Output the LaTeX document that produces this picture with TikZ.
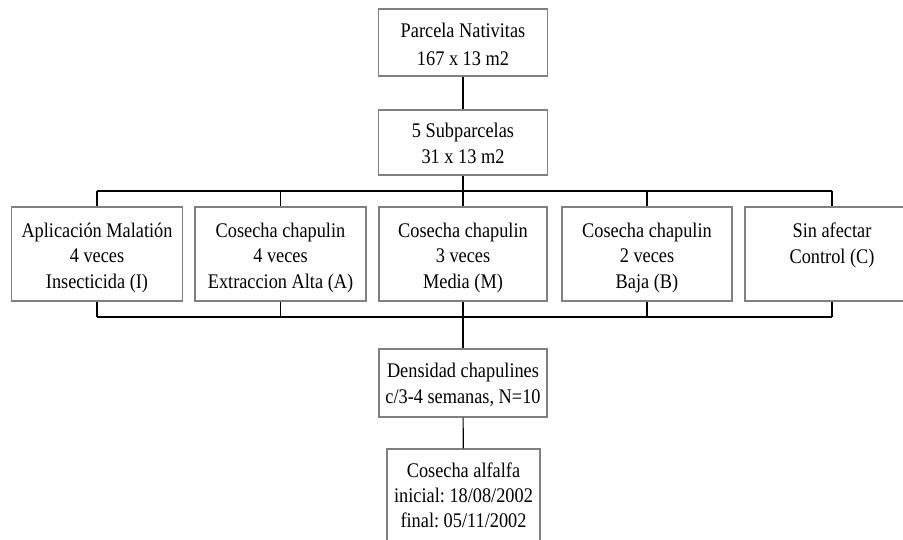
\documentclass[tikz,border=0pt]{standalone}
\usepackage{fontspec}
\setmainfont[FakeStretch=0.88]{Liberation Serif}
\usepackage{tikz}

\definecolor{boxgray}{RGB}{128,128,128}
\frenchspacing

\begin{document}
\begin{tikzpicture}[x=1pt, y=-1pt,
  box/.style={rectangle, draw=boxgray, line width=1.2pt, align=center,
    inner sep=0pt, text depth=5pt, font=\fontsize{20.8}{25.5}\selectfont},
  link/.style={draw=black, line width=1.1pt}]

  \clip (0,0) rectangle (903,539);

  \node[box, minimum width=169, minimum height=67, text height=50pt,
    font=\fontsize{20.8}{28}\selectfont] (parcela) at (463,42.5)
  {Parcela Nativitas\\ 167 x 13 m2};
  \node[box, minimum width=169, minimum height=65, text height=46pt] (sub) at (463,142.5)
  {5 Subparcelas\\ 31 x 13 m2};

  \node[box, minimum width=171, minimum height=94, text height=73pt] (t1) at (97,254)
  {Aplicación Malatión\\ 4 veces\\ Insecticida (I)};
  \node[box, minimum width=171, minimum height=94, text height=73pt] (t2) at (280.5,254)
  {Cosecha chapulin\\ 4 veces\\ Extraccion Alta (A)};
  \node[box, minimum width=168, minimum height=94, text height=73pt] (t3) at (463,254)
  {Cosecha chapulin\\ 3 veces\\ Media (M)};
  \node[box, minimum width=170, minimum height=94, text height=73pt] (t4) at (647,254)
  {Cosecha chapulin\\ 2 veces\\ Baja (B)};
  \node[box, minimum width=174, minimum height=94, text height=23pt] (t5) at (832,254)
  {Sin afectar\\ Control (C)};

  \node[box, minimum width=168, minimum height=68, text height=45pt] (dens) at (463,383)
  {Densidad chapulines\\ c/3-4 semanas, N=10};
  \node[box, minimum width=153, minimum height=98, text height=63pt,
    font=\fontsize{20.8}{25}\selectfont] (cos) at (463.5,498)
  {Cosecha alfalfa\\ inicial: 18/08/2002\\ final: 05/11/2002};

  \coordinate (bustop) at (463,191);
  \coordinate (busbot) at (463,317);

  \draw[link] (parcela) -- (sub);
  \draw[link] (sub) -- (bustop);
  \draw[link] (t1.north |- bustop) -- (t5.north |- bustop);
  \draw[link] (t1.south |- busbot) -- (t5.south |- busbot);

  \foreach \i in {1,...,5} {
    \draw[link] (t\i.north |- bustop) -- (t\i);
    \draw[link] (t\i) -- (t\i.south |- busbot);
  }

  \draw[link] (busbot) -- (dens);
  \draw[link] (dens) -- (cos);

\end{tikzpicture}
\end{document}
